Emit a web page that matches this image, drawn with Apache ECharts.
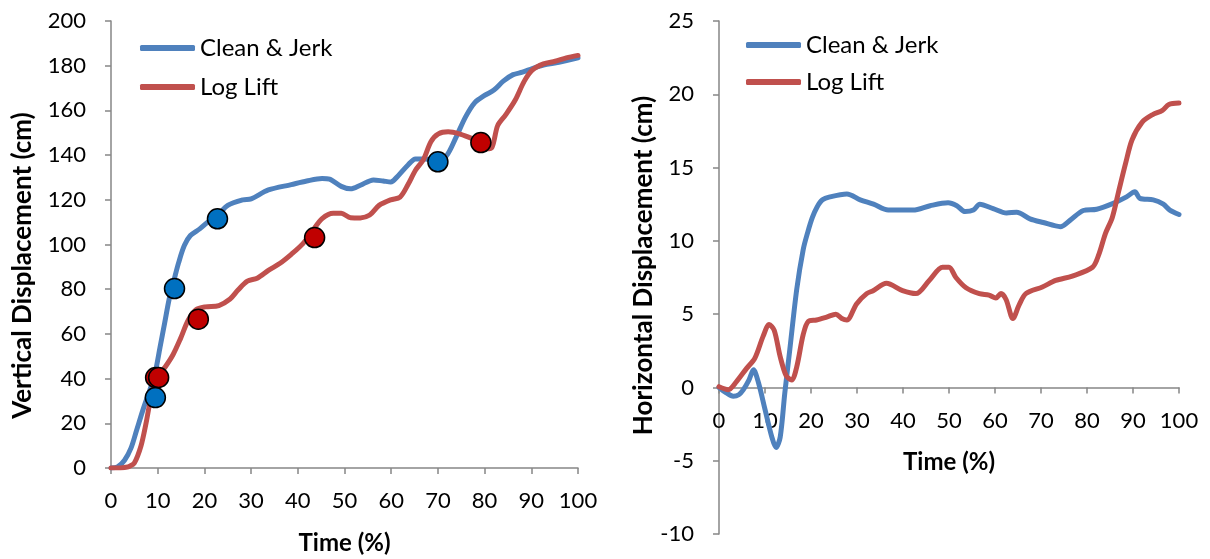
<!DOCTYPE html>
<html>
<head>
<meta charset="utf-8">
<script src="https://cdn.jsdelivr.net/npm/echarts@6/dist/echarts.min.js"></script>
<style>
html,body{margin:0;padding:0;background:#fff;}
#chart{width:1210px;height:559px;}
</style>
</head>
<body>
<div id="chart"></div>
<script>
// ---- Data ----
const seriesNames = ['Clean & Jerk', 'Log Lift'];
const timeTicks = [0, 10, 20, 30, 40, 50, 60, 70, 80, 90, 100];

// Left: vertical displacement (cm)
const cjVertX = [0,1.4,2.9,4.3,5.5,7,8.5,9.5,10.5,11.5,12.5,13.6,14.5,15.7,17,19,21,22.8,25,28.3,30,33.7,38.6,41.9,45.2,46.8,49.3,51.3,53.4,56.2,58.3,59.9,61.5,63.6,65.2,67.3,69.7,71.8,73.8,75.9,77.9,80,82,84,86.1,88.1,90.2,92.6,95.9,100];
const cjVertY = [0,0.5,3.5,9,17,27,36,43,54,65,76,85,92,99.5,104,107,110.5,113,117.5,120,120.4,124.4,126.8,128.4,129.5,129.2,126,124.9,126.5,128.9,128.4,128,130.8,135.6,138.3,138.3,137.2,139.6,147.6,157,163.5,166.7,169.1,173.1,176,177.1,178.7,180.3,181.5,183.5];
const llVertX = [0,2,3.2,4,5,6.4,7.5,8.4,9.3,10.2,11.6,13.3,14.9,16.5,18.2,20.2,23.1,25.5,27.2,29.2,31.3,33.7,36.2,38.6,41.1,43.1,45.2,47.6,49.3,51.3,53.4,55.4,57.4,59.9,61.9,63.6,65.2,66.9,68.5,70.1,72.2,74.6,77.1,79.1,80.4,81.6,82.8,84.5,86.5,88.5,90.2,92.6,95.1,97.5,100];
const llVertY = [0,0,0.3,0.8,2.2,9.7,20,30,37,41.5,45.2,50.8,58,66,70.8,72.1,72.7,75.6,79.6,83.6,84.9,88.4,91.6,95.6,100.4,106,111.6,114,114,112,111.9,113.2,117.5,120,121.2,126.8,133.2,138,146,149.5,150.4,149.5,147.6,146,142.8,143.6,153.2,158,164.4,173.1,178,180.8,182,183.5,184.6];
const cjMarkX = [9.5,13.6,22.8,70.0];
const cjMarkY = [31.5,80.3,111.5,137.0];
const llMarkX = [9.55,10.2,18.7,43.6,79.2];
const llMarkY = [40.5,40.5,66.6,103.1,145.6];
const vertTicks = [0,20,40,60,80,100,120,140,160,180,200];

// Right: horizontal displacement (cm)
const cjHorX = [0,1.5,3.1,4.3,5.3,6.5,7.5,8.6,10,11.5,12.4,13.3,14.3,15.4,16.9,18.3,19.3,20.3,21.3,22.5,24.1,27.8,30.7,33.6,36.8,42.2,45.9,49.8,51.7,53.5,55.3,56.7,59.6,62.5,64.7,67.6,70.5,74.2,76.3,79.2,82.1,85.7,88.6,90.4,91.5,94.4,96.6,98,100];
const cjHorY = [0,-0.35,-0.6,-0.5,-0.15,0.5,1.2,0.3,-1.5,-3.4,-4.1,-3.4,-0.4,2.6,6.7,9.4,10.6,11.6,12.3,12.8,13.0,13.2,12.8,12.5,12.1,12.1,12.4,12.6,12.4,12.0,12.1,12.5,12.2,11.9,11.96,11.5,11.25,10.97,11.4,12.07,12.16,12.56,13.0,13.35,12.9,12.8,12.5,12.1,11.8];
const llHorX = [0,2,3.8,6,7.8,9.6,10.9,12,13.3,14.6,15.8,16.9,18.3,19.4,21.2,23.4,25.4,26.7,27.8,29.9,32.1,33.5,36.4,39.9,42.8,45.7,48.6,50,51.5,53.7,56.6,58.7,60.2,61.3,62.4,63.9,65.2,66.7,70.3,73.2,76.8,81.2,82.6,84,85.5,86.9,88.4,89.8,92,94.2,96.4,97.8,100];
const llHorY = [0.05,-0.15,0.4,1.3,2.0,3.5,4.3,3.9,2.1,0.8,0.5,1.4,3.6,4.5,4.6,4.8,5.0,4.7,4.6,5.7,6.4,6.6,7.1,6.6,6.4,7.3,8.2,8.2,7.5,6.8,6.4,6.3,6.1,6.4,6.0,4.7,5.6,6.4,6.85,7.3,7.6,8.2,9.1,10.5,11.6,13.4,15.3,16.9,18.1,18.6,18.9,19.3,19.4];
const horTicks = [-10,-5,0,5,10,15,20,25];

// ---- Build ----
const zip = (xs, ys) => xs.map((x, i) => [x, ys[i]]);
const FONT = 'Lato';
const AXIS_COLOR = '#868686';
const BLUE = '#4F81BD', RED = '#C0504D';
const MBLUE = '#0070C0', MRED = '#C00000';

// grid geometry
const G1 = { left: 111, top: 21, width: 467, height: 447 };
const G2 = { left: 719, top: 21, width: 460, height: 513 };
// right x axis sits on y = 0: offset from grid bottom
const rightZeroOffset = -G2.height * (0 - horTicks[0]) / (horTicks[horTicks.length - 1] - horTicks[0]);

function xAxisCfg(gridIndex, offset) {
  return {
    type: 'value', gridIndex, min: timeTicks[0], max: timeTicks[timeTicks.length - 1], interval: 10,
    position: 'bottom', offset,
    name: 'Time (%)', nameLocation: 'middle', nameGap: 63,
    nameTextStyle: { fontFamily: FONT, fontSize: 24, fontWeight: 'bold', color: '#000' },
    axisLine: { show: true, onZero: false, lineStyle: { color: AXIS_COLOR, width: 1.5 } },
    axisTick: { show: true, length: 6, inside: false, lineStyle: { color: AXIS_COLOR, width: 1.5 } },
    axisLabel: { show: true, fontFamily: FONT, fontSize: 22, color: '#000', margin: 22, hideOverlap: false },
    splitLine: { show: false }
  };
}
function yAxisCfg(gridIndex, ticks, name, nameGap, shift) {
  return {
    type: 'value', gridIndex, min: ticks[0], max: ticks[ticks.length - 1], interval: ticks[1] - ticks[0],
    name, nameLocation: 'middle', nameGap, nameRotate: 90,
    nameTextStyle: { fontFamily: FONT, fontSize: 26, fontWeight: 'bold', color: '#000',
      padding: shift > 0 ? [0, shift * 2, 0, 0] : [0, 0, 0, -shift * 2] },
    axisLine: { show: true, onZero: false, lineStyle: { color: AXIS_COLOR, width: 1.5 } },
    axisTick: { show: true, length: 6, lineStyle: { color: AXIS_COLOR, width: 1.5 } },
    axisLabel: { fontFamily: FONT, fontSize: 22, color: '#000', margin: 25 },
    splitLine: { show: false }
  };
}
function lineSeries(name, xi, data, color) {
  return {
    name, type: 'line', xAxisIndex: xi, yAxisIndex: xi, data,
    symbol: 'none', showSymbol: false, smooth: 0.3,
    lineStyle: { color, width: 5, cap: 'round', join: 'round' }, itemStyle: { color },
    z: 2, animation: false
  };
}
function markSeries(name, data, color) {
  return {
    name, type: 'scatter', xAxisIndex: 0, yAxisIndex: 0, data,
    symbol: 'circle', symbolSize: 20,
    itemStyle: { color, borderColor: '#000', borderWidth: 1.5, opacity: 1 },
    z: 3, animation: false
  };
}
function legendCfg(left, top, gap) {
  return {
    data: seriesNames.map(n => ({ name: n, icon: 'roundRect' })),
    left, top, orient: 'vertical', itemGap: gap,
    itemWidth: 55, itemHeight: 6,
    textStyle: { fontFamily: FONT, fontSize: 24, color: '#000' },
    selectedMode: false
  };
}

const option = {
  backgroundColor: '#fff',
  animation: false,
  grid: [
    Object.assign({ outerBoundsMode: 'none', containLabel: false }, G1),
    Object.assign({ outerBoundsMode: 'none', containLabel: false }, G2)
  ],
  xAxis: [xAxisCfg(0, 0), xAxisCfg(1, rightZeroOffset)],
  yAxis: [
    yAxisCfg(0, vertTicks, 'Vertical Displacement (cm)', 75, 21),
    yAxisCfg(1, horTicks, 'Horizontal Displacement (cm)', 59, -12)
  ],
  legend: [legendCfg(135, 31, 15), legendCfg(741, 28, 13)],
  series: [
    lineSeries(seriesNames[0], 0, zip(cjVertX, cjVertY), BLUE),
    lineSeries(seriesNames[1], 0, zip(llVertX, llVertY), RED),
    markSeries('CJ markers', zip(cjMarkX, cjMarkY), MBLUE),
    markSeries('LL markers', zip(llMarkX, llMarkY), MRED),
    lineSeries(seriesNames[0], 1, zip(cjHorX, cjHorY), BLUE),
    lineSeries(seriesNames[1], 1, zip(llHorX, llHorY), RED)
  ]
};
const chart = echarts.init(document.getElementById('chart'), null, { renderer: 'canvas' });
chart.setOption(option);
</script>
</body>
</html>
